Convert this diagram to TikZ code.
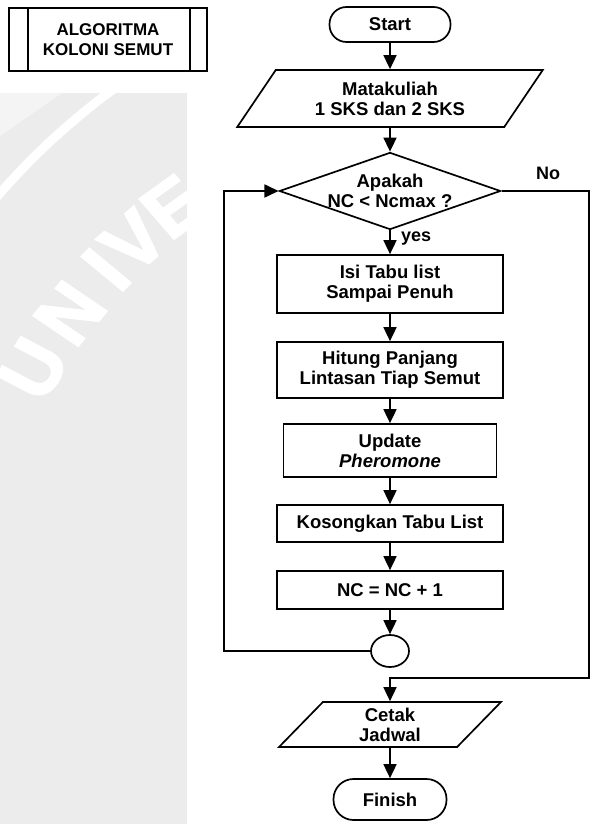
\documentclass[tikz,border=0pt]{standalone}
\usepackage{fontspec}
\setmainfont{Liberation Sans}
\newfontfamily\sealfont[FakeBold=2.5]{Liberation Sans Bold}
\usetikzlibrary{arrows.meta,shapes.geometric,calc}

\begin{document}
\begin{tikzpicture}[x=1pt,y=-1pt,
  every node/.style={font=\fontsize{18.5}{20}\selectfont\bfseries, align=center, inner sep=0pt},
  box/.style={draw, line width=1.7pt, rectangle, minimum width=226pt},
  term/.style={draw, line width=1.7pt, rectangle},
  io/.style={draw, line width=1.7pt, trapezium, trapezium stretches=true},
  decision/.style={draw, line width=1.7pt, diamond, aspect=2.87, minimum width=221pt, minimum height=77pt},
  joint/.style={draw, line width=1.7pt, ellipse, minimum width=38pt, minimum height=32pt},
  flow/.style={line width=1.7pt, -{Triangle[width=13pt,length=14pt]}},
  link/.style={line width=1.7pt},
  lbl/.style={font=\fontsize{18}{20}\selectfont\bfseries},
  sealletter/.style={white, font=\sealfont\fontsize{18}{18}\selectfont, scale=4.1, xscale=1.1}
]
\useasboundingbox (0,0) rectangle (604,824);

% faded seal in the left margin
\begin{scope}
  \clip (0,93) rectangle (187,824);
  \fill[gray!15] (0,93) rectangle (187,824);
  \fill[white, opacity=0.45] (0,93) -- (62,93) -- (0,136) -- cycle;
  \coordinate (seal) at (527,654);
  \draw[white, line width=9pt] (seal) circle[radius=700pt];
  \foreach \ch/\ang in {U/150, N/143.3, I/137.6, V/133.6, E/128.3}
    \node[sealletter, rotate=\ang-90] at ($(seal)+(-\ang:570)$) {\ch};
\end{scope}

% title (predefined process symbol)
\node[draw, line width=1.7pt, minimum width=198pt, minimum height=63pt,
      font=\fontsize{17}{20}\selectfont\bfseries] (title) at (108,39.5) {ALGORITMA\\KOLONI SEMUT};
\draw[link] ([xshift=20pt]title.north west) -- ([xshift=20pt]title.south west);
\draw[link] ([xshift=-18pt]title.north east) -- ([xshift=-18pt]title.south east);

% flowchart
\node[term, rounded corners=17pt, minimum width=121pt, minimum height=35pt] (start) at (390,24.5) {Start};
\node[io, trapezium left angle=53, trapezium right angle=127, minimum width=306pt, minimum height=57pt]
  (input) at (390,98.5) {Matakuliah\\1 SKS dan 2 SKS};
\node[decision] (dec) at (390,191) {Apakah\\NC < Ncmax ?};
\node[box, minimum height=58pt] (isi) at (390,284) {Isi Tabu list\\Sampai Penuh};
\node[box, minimum height=56pt] (hitung) at (390,370) {Hitung Panjang\\Lintasan Tiap Semut};
\node[box, minimum width=213pt, minimum height=53pt] (update) at (390,450.5) {Update\\\textit{Pheromone}};
\node[box, minimum height=37pt] (kosong) at (390,523.5) {Kosongkan Tabu List};
\node[box, minimum height=38pt] (inc) at (390,590) {NC = NC + 1};
\node[joint] (join) at (390,651) {};
\node[io, trapezium left angle=59, trapezium right angle=121, minimum width=222pt, minimum height=45pt]
  (cetak) at (390,724.5) {Cetak\\Jadwal};
\node[term, rounded corners=20pt, minimum width=113pt, minimum height=41pt] (finish) at (390,799.5) {Finish};

\node[lbl] (no) at (548,173) {No};
\node[lbl, anchor=west] (yes) at (401,239) {yes};

\coordinate (loopL) at (224,191);
\coordinate (noR) at (589,678);

\draw[flow] (start.south) -- (input.north);
\draw[flow] (input.south) -- (dec.north);
\draw[flow] (dec.south) -- (isi.north);
\draw[flow] (isi.south) -- (hitung.north);
\draw[flow] (hitung.south) -- (update.north);
\draw[flow] (update.south) -- (kosong.north);
\draw[flow] (kosong.south) -- (inc.north);
\draw[flow] (inc.south) -- (join.north);
\draw[flow] (join.west) -| (loopL) -- (dec.west);
\draw[flow] (dec.east) -| (noR) -| (cetak.north);
\draw[flow] (cetak.south) -- (finish.north);
\end{tikzpicture}
\end{document}
